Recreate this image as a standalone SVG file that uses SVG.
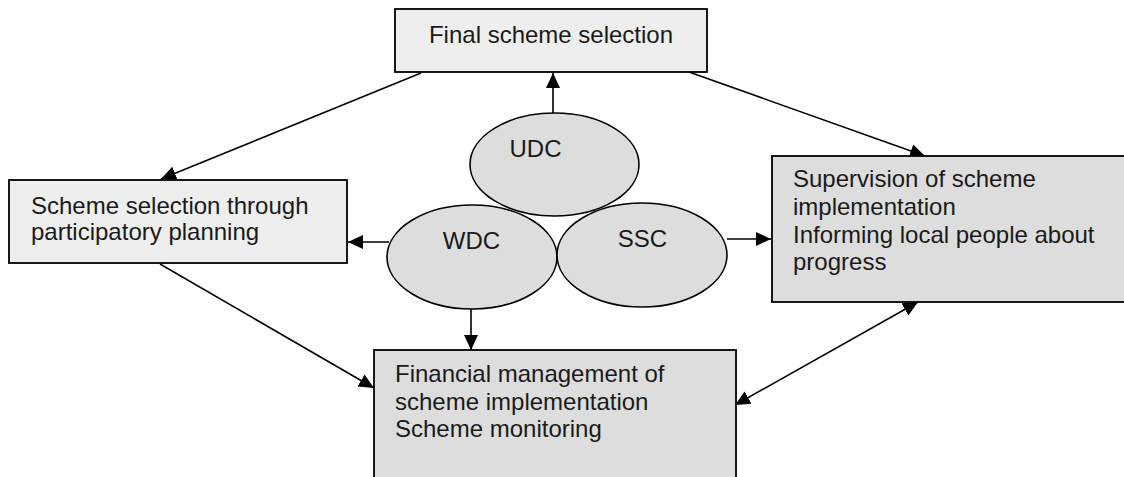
<svg xmlns="http://www.w3.org/2000/svg" width="1124" height="477" viewBox="0 0 1124 477">
  <style>
    .box-light { fill: #eeeeee; stroke: #000; stroke-width: 1.8; }
    .box-dark { fill: #dddddd; stroke: #000; stroke-width: 1.8; }
    .council { fill: #dddddd; stroke: #000; stroke-width: 1.6; }
    .label { font-family: "Liberation Sans", Arial, sans-serif; font-size: 24px; fill: #1a1a1a; }
    .link { stroke: #000; stroke-width: 1.6; fill: none; marker-end: url(#head); }
    .link2 { marker-start: url(#tail); }
  </style>
  <defs>
    <marker id="head" markerUnits="userSpaceOnUse" markerWidth="16" markerHeight="16" viewBox="0 0 16 16" refX="15" refY="8" orient="auto">
      <path d="M0,1 L15,8 L0,15 Z" fill="#000"/>
    </marker>
    <marker id="tail" markerUnits="userSpaceOnUse" markerWidth="16" markerHeight="16" viewBox="0 0 16 16" refX="1" refY="8" orient="auto">
      <path d="M16,1 L1,8 L16,15 Z" fill="#000"/>
    </marker>
  </defs>

  <rect width="1124" height="477" fill="#fff"/>

  <!-- connectors -->
  <g id="connectors">
    <line class="link" x1="421" y1="73" x2="161" y2="179"/>
    <line class="link" x1="689" y1="72" x2="925" y2="156"/>
    <line class="link" x1="553" y1="113" x2="553" y2="73"/>
    <line class="link" x1="389" y1="242" x2="348" y2="242"/>
    <line class="link" x1="727" y1="239" x2="771" y2="239"/>
    <line class="link" x1="471" y1="309" x2="471" y2="350"/>
    <line class="link" x1="160" y1="264" x2="374" y2="388"/>
    <line class="link link2" x1="918" y1="302" x2="735" y2="405"/>
  </g>

  <!-- activity boxes -->
  <g id="final-selection">
    <rect class="box-light" x="395" y="9" width="312" height="63"/>
    <text class="label" x="551" y="43" text-anchor="middle">Final scheme selection</text>
  </g>

  <g id="participatory-selection">
    <rect class="box-light" x="9" y="180" width="338" height="83"/>
    <text class="label" x="31" y="214">Scheme selection through</text>
    <text class="label" x="31" y="240">participatory planning</text>
  </g>

  <g id="supervision">
    <rect class="box-dark" x="772" y="156" width="360" height="146"/>
    <text class="label" x="793" y="187">Supervision of scheme</text>
    <text class="label" x="793" y="215">implementation</text>
    <text class="label" x="793" y="243">Informing local people about</text>
    <text class="label" x="793" y="270">progress</text>
  </g>

  <g id="financial-management">
    <rect class="box-dark" x="374" y="350" width="362" height="135"/>
    <text class="label" x="395" y="382">Financial management of</text>
    <text class="label" x="395" y="410">scheme implementation</text>
    <text class="label" x="395" y="437">Scheme monitoring</text>
  </g>

  <!-- committees -->
  <g id="udc">
    <ellipse class="council" cx="554.5" cy="164.5" rx="84.5" ry="51.5"/>
    <text class="label" x="535.5" y="157" text-anchor="middle">UDC</text>
  </g>

  <g id="wdc">
    <ellipse class="council" cx="472" cy="257" rx="85" ry="52"/>
    <text class="label" x="471.5" y="249" text-anchor="middle">WDC</text>
  </g>

  <g id="ssc">
    <ellipse class="council" cx="642" cy="255" rx="85" ry="52"/>
    <text class="label" x="642.5" y="247" text-anchor="middle">SSC</text>
  </g>
</svg>
